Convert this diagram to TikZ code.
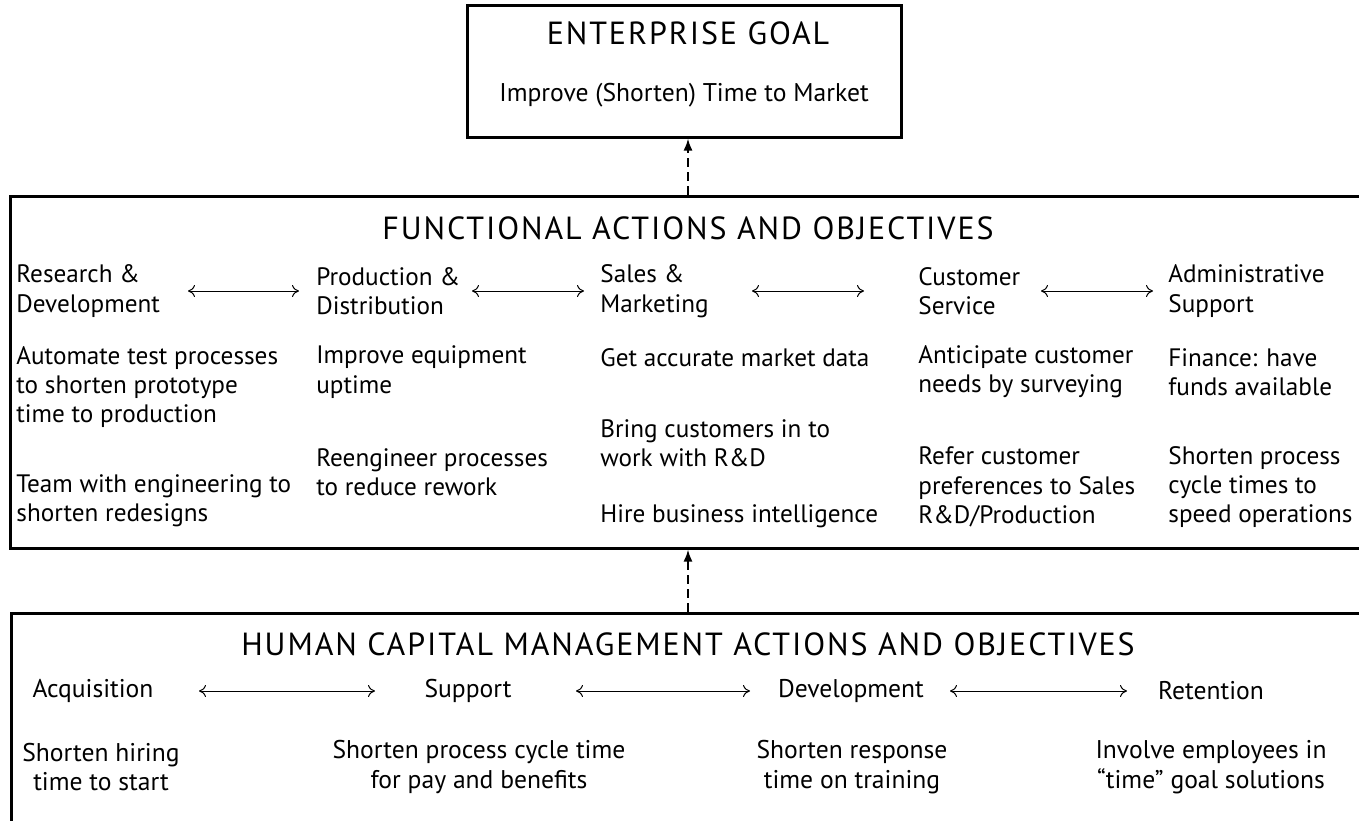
\documentclass[tikz,border=0pt]{standalone}
\usepackage{fontspec}
\setmainfont{PT Sans}
\newfontfamily\hdrfont[LetterSpace=6]{PT Sans}
\usetikzlibrary{arrows.meta,calc}

\begin{document}
\begin{tikzpicture}[x=0.5pt, y=-0.5pt,
  box/.style={draw, line width=1.5pt, rectangle, inner sep=0pt},
  hdr/.style={inner sep=0pt, font=\hdrfont\fontsize{16}{19}\selectfont},
  lbl/.style={inner sep=0pt, align=left, anchor=west, font=\fontsize{12.6}{14.7}\selectfont},
  txt/.style={inner sep=0pt, align=center, font=\fontsize{12.8}{14.7}\selectfont},
  biarrow/.style={{To[length=3.5pt,width=6pt]}-{To[length=3.5pt,width=6pt]}, line width=0.5pt},
  uplink/.style={-{Latex[length=6pt,width=4.5pt]}, line width=1pt, dash pattern=on 4.5pt off 2.5pt}]
  \useasboundingbox (0,0) rectangle (1359,820);

  % boxes
  \node[box, minimum width=217pt, minimum height=66pt] (goal) at (684,71) {};
  \node[box, minimum width=690pt, minimum height=176pt] (func) at (700,372) {};
  \node[box, minimum width=690pt, minimum height=144pt] (hcm) at (701,757) {};
  \coordinate (mid) at (688,0);
  \draw[uplink] (func.north -| mid) -- (goal.south -| mid);
  \draw[uplink] (hcm.north -| mid) -- (func.south -| mid);

  % enterprise goal
  \node[hdr] (goaltitle) at (688,33) {ENTERPRISE GOAL};
  \node[txt] (goaltext) at (684,95) {Improve (Shorten) Time to Market};

  % functional actions
  \node[hdr] (functitle) at (688,228) {FUNCTIONAL ACTIONS AND OBJECTIVES};
  \node[lbl] (rd) at (16,291) {Research \&\\Development};
  \node[lbl] (pd) at (316,291) {Production \&\\Distribution};
  \node[lbl] (sm) at (600,291) {Sales \&\\Marketing};
  \node[lbl] (cs) at (918,291) {Customer\\Service};
  \node[lbl] (as) at (1168,291) {Administrative\\Support};
  \draw[biarrow] ($(rd.west)+(172,0)$) -- ($(pd.west)+(-17,0)$);
  \draw[biarrow] ($(pd.west)+(156,0)$) -- ($(sm.west)+(-16,0)$);
  \draw[biarrow] ($(sm.west)+(152,0)$) -- ($(cs.west)+(-54,0)$);
  \draw[biarrow] ($(cs.west)+(123,0)$) -- ($(as.west)+(-15,0)$);

  \node[lbl] (rd1) at (16,387) {Automate test processes\\to shorten prototype\\time to production};
  \node[lbl] (rd2) at (16,501) {Team with engineering to\\shorten redesigns};
  \node[lbl] (pd1) at (316,372) {Improve equipment\\uptime};
  \node[lbl] (pd2) at (316,472) {Reengineer processes\\to reduce rework};
  \node[lbl] (sm1) at (600,358) {Get accurate market data};
  \node[lbl] (sm2) at (600,443) {Bring customers in to\\work with R\&D};
  \node[lbl] (sm3) at (600,516) {Hire business intelligence};
  \node[lbl] (cs1) at (918,372) {Anticipate customer\\needs by surveying};
  \node[lbl] (cs2) at (918,487) {Refer customer\\preferences to Sales\\R\&D/Production};
  \node[lbl] (as1) at (1168,372) {Finance: have\\funds available};
  \node[lbl] (as2) at (1168,487) {Shorten process\\cycle times to\\speed operations};

  % human capital management
  \node[hdr] (hcmtitle) at (688,644) {HUMAN CAPITAL MANAGEMENT ACTIONS AND OBJECTIVES};
  \node[txt] (acq) at (93,691) {Acquisition};
  \node[txt] (sup) at (468,691) {Support};
  \node[txt] (dev) at (851,691) {Development};
  \node[txt] (ret) at (1211,691) {Retention};
  \draw[biarrow] ($(acq)+(106,0)$) -- ($(sup)+(-93,0)$);
  \draw[biarrow] ($(sup)+(108,0)$) -- ($(dev)+(-101,0)$);
  \draw[biarrow] ($(dev)+(99,0)$) -- ($(ret)+(-84,0)$);

  \node[txt] (acq1) at (101,767) {Shorten hiring\\time to start};
  \node[txt] (sup1) at (479,767) {Shorten process cycle time\\for pay and benefits};
  \node[txt] (dev1) at (852,767) {Shorten response\\time on training};
  \node[txt] (ret1) at (1211,767) {Involve employees in\\“time” goal solutions};
\end{tikzpicture}
\end{document}
